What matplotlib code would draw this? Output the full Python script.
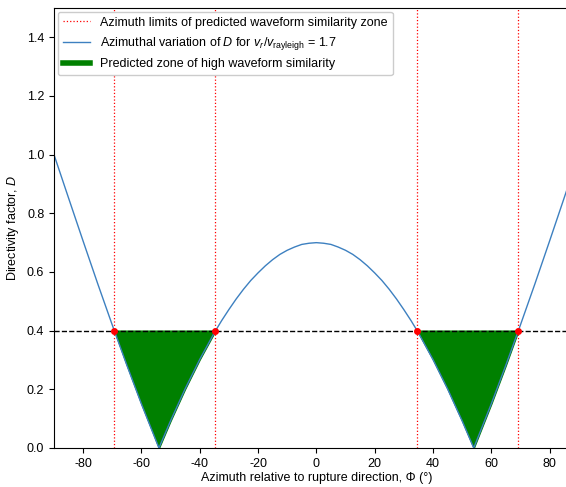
import matplotlib.pyplot as plt
import numpy as np
from matplotlib.lines import Line2D

plt.rcParams['font.family'] = ['Liberation Sans', 'DejaVu Sans']
plt.rcParams['mathtext.fontset'] = 'custom'
plt.rcParams['mathtext.rm'] = 'Liberation Sans'
plt.rcParams['mathtext.it'] = 'Liberation Sans:italic'
plt.rcParams['axes.unicode_minus'] = False

# directivity factor D sampled along azimuth (degrees)
phi = [-90, -85, -80, -75, -70, -65, -60, -55, -54, -50, -45, -40, -35,
       -32.5, -30, -27.5, -25, -22.5, -20, -17.5, -15, -12.5, -10, -7.5,
       -5, -2.5, 0, 2.5, 5, 7.5, 10, 12.5, 15, 17.5, 20, 22.5, 25, 27.5,
       30, 32.5, 35, 40, 45, 50, 54, 55, 60, 65, 70, 75, 80, 85, 90]
D = [1.0, 0.852, 0.705, 0.560, 0.419, 0.282, 0.150, 0.025, 0.0, 0.093,
     0.202, 0.302, 0.393,
     0.434, 0.472, 0.508, 0.541, 0.571, 0.597, 0.621, 0.642, 0.660, 0.674,
     0.685, 0.694, 0.698, 0.700, 0.698, 0.694, 0.685, 0.674, 0.660, 0.642,
     0.621, 0.597, 0.571, 0.541, 0.508, 0.472, 0.434, 0.393, 0.302, 0.202,
     0.093, 0.0, 0.025, 0.150, 0.282, 0.419, 0.560, 0.705, 0.852, 1.0]

D_threshold = 0.4
# azimuths where D crosses the threshold
limits = [-69.3, -34.6, 34.6, 69.3]
zones = [(-69.3, -34.6), (34.6, 69.3)]
ratio = 1.7

phi = np.array(phi)
D = np.array(D)

fig = plt.figure(figsize=(5.66, 4.87), dpi=100)
ax = fig.add_axes([0.0954, 0.0801, 0.927, 0.9035])

for i, x in enumerate(limits):
    ax.axvline(x, color='red', linestyle=':', linewidth=0.9,
               label='Azimuth limits of predicted waveform similarity zone' if i == 0 else None)

ax.plot(phi, D, color='#3d80c0', linewidth=1.0,
        label=r'Azimuthal variation of $D$ for $v_r/v_{\rm rayleigh}$ = ' + str(ratio))

for i, (lo, hi) in enumerate(zones):
    inside = (phi > lo) & (phi < hi)
    xs = np.concatenate(([lo], phi[inside], [hi]))
    ys = np.concatenate(([D_threshold], D[inside], [D_threshold]))
    ax.fill_between(xs, ys, D_threshold, color='green',
                    label='Predicted zone of high waveform similarity' if i == 0 else None)

ax.axhline(D_threshold, color='black', linestyle='--', linewidth=1.0)
ax.plot(limits, [D_threshold] * len(limits), 'o', color='red', markersize=4, zorder=5)

ax.set_xlim(-90, 90)
ax.set_ylim(0, 1.5)
ax.set_xticks(np.arange(-80, 81, 20))
ax.set_yticks(np.arange(0, 1.41, 0.2))
ax.tick_params(labelsize=9)
ax.set_xlabel('Azimuth relative to rupture direction, Φ (°)', fontsize=9, labelpad=2)
ax.set_ylabel('Directivity factor, $D$', fontsize=9, labelpad=4)

handles, labels = ax.get_legend_handles_labels()
handles[2] = Line2D([], [], color='green', linewidth=4)
ax.legend(handles, labels, loc='upper left', fontsize=9, framealpha=1,
          borderaxespad=0.3, handlelength=2.2)

fig.savefig('out.png', dpi=100)
